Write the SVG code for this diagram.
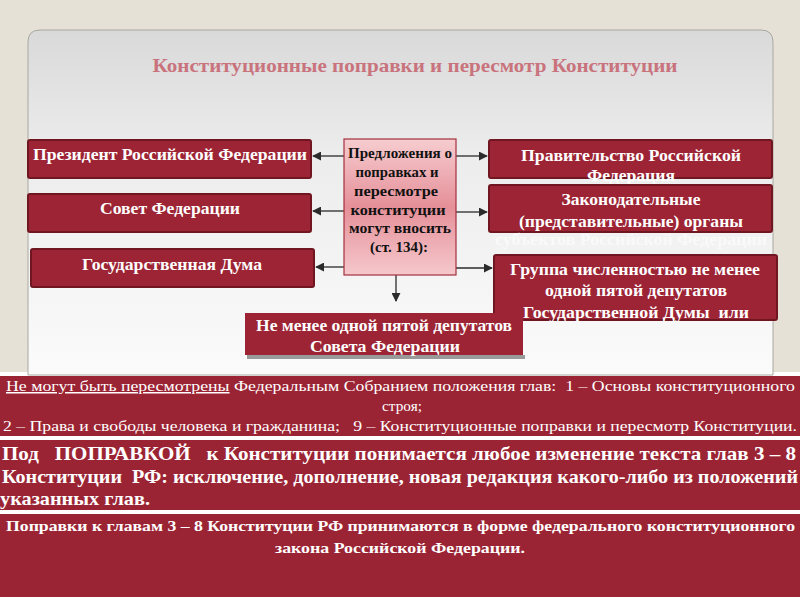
<svg xmlns="http://www.w3.org/2000/svg" width="800" height="600" viewBox="0 0 800 600">
<defs>
<linearGradient id="panel" x1="0" y1="0" x2="0" y2="1">
<stop offset="0" stop-color="#d9d9d9"/>
<stop offset="0.35" stop-color="#ececec"/>
<stop offset="1" stop-color="#fbfbfb"/>
</linearGradient>
<linearGradient id="pink" x1="0" y1="0" x2="0" y2="1">
<stop offset="0" stop-color="#f6cdd0"/>
<stop offset="0.5" stop-color="#e58f98"/>
<stop offset="1" stop-color="#f5c8cc"/>
</linearGradient>
<marker id="ah" viewBox="0 0 10 10" refX="9" refY="5" markerWidth="9" markerHeight="9" markerUnits="userSpaceOnUse" orient="auto">
<path d="M0,0 L10,5 L0,10 z" fill="#2b2b2b"/>
</marker>
</defs>
<style>
.box{fill:#9c2434;stroke:#6f1621;stroke-width:2}
.wt{fill:#ffffff;font-family:"Liberation Serif",serif;font-weight:bold;font-size:16.5px;text-anchor:middle;white-space:pre}
.ct{fill:#111111;font-family:"Liberation Serif",serif;font-weight:bold;font-size:15px;text-anchor:middle}
.conn{stroke:#2b2b2b;stroke-width:1.3;fill:none;marker-end:url(#ah)}
.bt{fill:#ffffff;font-family:"Liberation Serif",serif;white-space:pre}
</style>
<rect x="0" y="0" width="800" height="600" fill="#e5e1d6"/>
<rect x="0" y="372" width="800" height="228" fill="#ffffff"/>
<path d="M28,375 L28,42 Q28,30 40,30 L761,30 Q773,30 773,42 L773,375 Z" fill="url(#panel)" stroke="#a9a8a0" stroke-width="1"/>
<text x="415" y="72" fill="#c9737d" font-family="Liberation Serif,serif" font-weight="bold" font-size="19" text-anchor="middle" textLength="525" lengthAdjust="spacingAndGlyphs">Конституционные поправки и пересмотр Конституции</text>

<g id="connectors">
<line class="conn" x1="344" y1="156" x2="313" y2="156"/>
<line class="conn" x1="344" y1="211" x2="313" y2="211"/>
<line class="conn" x1="344" y1="267" x2="316" y2="267"/>
<line class="conn" x1="456" y1="156" x2="487" y2="156"/>
<line class="conn" x1="456" y1="212" x2="487" y2="212"/>
<line class="conn" x1="456" y1="268" x2="492" y2="268"/>
<line class="conn" x1="396" y1="275" x2="396" y2="301"/>
</g>

<g id="center">
<rect x="344" y="139" width="112" height="136" fill="url(#pink)" stroke="#a3303e" stroke-width="1.2"/>
<text class="ct" x="400" y="158" textLength="104" lengthAdjust="spacingAndGlyphs">Предложения о</text>
<text class="ct" x="397" y="177" textLength="83" lengthAdjust="spacingAndGlyphs">поправках и</text>
<text class="ct" x="396" y="196" textLength="84" lengthAdjust="spacingAndGlyphs">пересмотре</text>
<text class="ct" x="398" y="215" textLength="95" lengthAdjust="spacingAndGlyphs">конституции</text>
<text class="ct" x="400" y="233" textLength="102" lengthAdjust="spacingAndGlyphs">могут вносить</text>
<text class="ct" x="399" y="252" textLength="58" lengthAdjust="spacingAndGlyphs">(ст. 134):</text>
</g>

<g id="president">
<rect class="box" x="28" y="140" width="283" height="38" rx="2"/>
<text class="wt" x="170" y="160" textLength="274" lengthAdjust="spacingAndGlyphs">Президент Российской Федерации</text>
</g>
<g id="sovet">
<rect class="box" x="28" y="194" width="283" height="38" rx="2"/>
<text class="wt" x="170" y="214" textLength="140" lengthAdjust="spacingAndGlyphs">Совет Федерации</text>
</g>
<g id="duma">
<rect class="box" x="31" y="249" width="283" height="38" rx="2"/>
<text class="wt" x="172" y="270" textLength="180" lengthAdjust="spacingAndGlyphs">Государственная Дума</text>
</g>
<g id="government">
<rect class="box" x="489" y="140" width="283" height="38" rx="2"/>
<text class="wt" x="631" y="161" textLength="220" lengthAdjust="spacingAndGlyphs">Правительство Российской</text>
<text class="wt" x="631" y="181" textLength="88" lengthAdjust="spacingAndGlyphs">Федерация</text>
</g>
<g id="legislative">
<rect class="box" x="489" y="185" width="283" height="47" rx="2"/>
<text class="wt" x="631" y="205" textLength="139" lengthAdjust="spacingAndGlyphs">Законодательные</text>
<text class="wt" x="631" y="227" textLength="224" lengthAdjust="spacingAndGlyphs">(представительные) органы</text>
<text class="wt" x="631" y="245" textLength="272" lengthAdjust="spacingAndGlyphs" fill-opacity="0.6">субъектов Российской Федерации</text>
</g>
<g id="group">
<rect class="box" x="494" y="255" width="283" height="65" rx="2"/>
<text class="wt" x="635" y="275" textLength="250" lengthAdjust="spacingAndGlyphs">Группа численностью не менее</text>
<text class="wt" x="636" y="296" textLength="182" lengthAdjust="spacingAndGlyphs">одной пятой депутатов</text>
<text class="wt" x="636" y="318" textLength="226" lengthAdjust="spacingAndGlyphs">Государственной Думы  или</text>
</g>
<g id="federation-council-fifth">
<rect x="247" y="355" width="278" height="4" fill="#9a9a9a"/>
<rect x="245" y="313" width="278" height="42" fill="#9c2434"/>
<text class="wt" x="384" y="331" textLength="256" lengthAdjust="spacingAndGlyphs">Не менее одной пятой депутатов</text>
<text class="wt" x="385" y="352" textLength="150" lengthAdjust="spacingAndGlyphs">Совета Федерации</text>
</g>

<g id="block1">
<rect x="0" y="376" width="800" height="60" fill="#9b2434"/>
<text class="bt" x="6" y="391" font-size="15" textLength="789" lengthAdjust="spacingAndGlyphs"><tspan text-decoration="underline">Не могут быть пересмотрены</tspan> Федеральным Собранием положения глав:  1 – Основы конституционного</text>
<text class="bt" x="402" y="411" font-size="15" text-anchor="middle" textLength="40" lengthAdjust="spacingAndGlyphs">строя;</text>
<text class="bt" x="3" y="431" font-size="15" textLength="794" lengthAdjust="spacingAndGlyphs">2 – Права и свободы человека и гражданина;   9 – Конституционные поправки и пересмотр Конституции.</text>
</g>
<g id="block2">
<rect x="0" y="440" width="800" height="70" fill="#9b2434"/>
<text class="bt" x="2" y="460" font-size="19" font-weight="bold" textLength="794" lengthAdjust="spacingAndGlyphs">Под   ПОПРАВКОЙ   к Конституции понимается любое изменение текста глав 3 – 8</text>
<text class="bt" x="2" y="483" font-size="19" font-weight="bold" textLength="796" lengthAdjust="spacingAndGlyphs">Конституции  РФ: исключение, дополнение, новая редакция какого-либо из положений</text>
<text class="bt" x="0" y="505" font-size="19" font-weight="bold" textLength="150" lengthAdjust="spacingAndGlyphs">указанных глав.</text>
</g>
<g id="block3">
<rect x="0" y="514" width="800" height="83" fill="#9b2434"/>
<text class="bt" x="6" y="531" font-size="15" font-weight="bold" textLength="789" lengthAdjust="spacingAndGlyphs">Поправки к главам 3 – 8 Конституции РФ принимаются в форме федерального конституционного</text>
<text class="bt" x="400" y="553" font-size="15" font-weight="bold" text-anchor="middle" textLength="250" lengthAdjust="spacingAndGlyphs">закона Российской Федерации.</text>
</g>
</svg>
